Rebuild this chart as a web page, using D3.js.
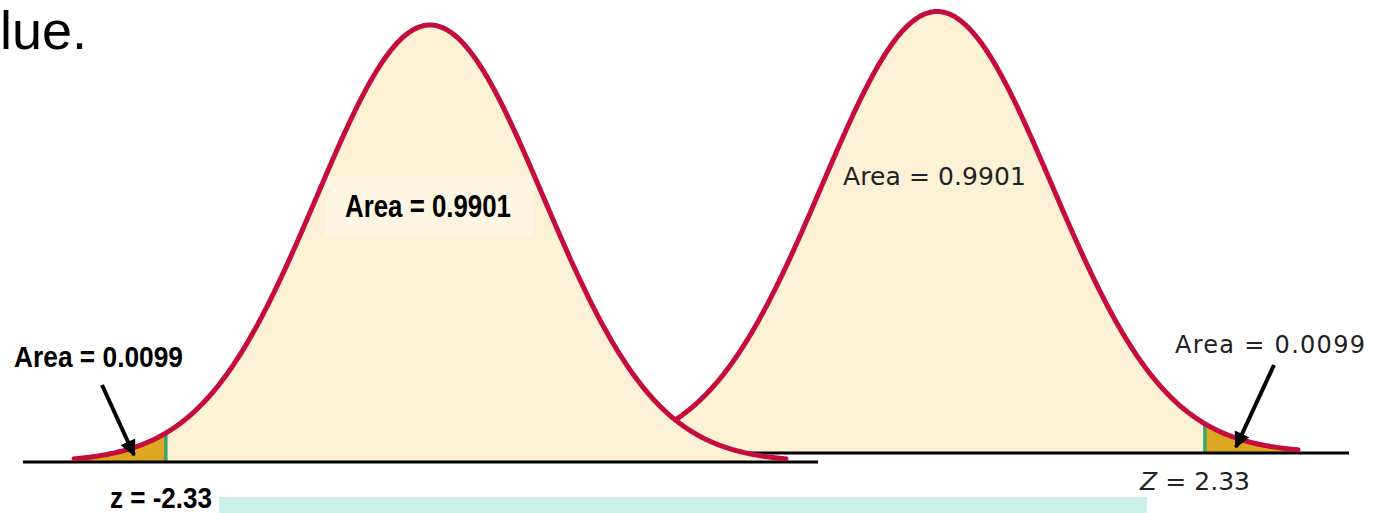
<!DOCTYPE html>
<html>
<head>
<meta charset="utf-8">
<script src="https://cdn.jsdelivr.net/npm/d3@7"></script>
<style>
  html, body { margin: 0; padding: 0; background: #ffffff; }
  svg { display: block; }
</style>
</head>
<body>
<svg id="chart" width="1381" height="513"></svg>
<script>
// Critical z values for the two tails and the areas they cut off
const panels = ["lower", "upper"];
const zCritical = [-2.33, 2.33];
const tailAreas = ["0.0099", "0.0099"];
const bodyAreas = ["0.9901", "0.9901"];
const zLimit = 3.14;

const W = 1381, H = 513;
const svg = d3.select("#chart");

const colors = {
  curve: "#c40c3d",
  body: "#fcf1d4",
  tail: "#dea722",
  cut: "#3fa46a",
  axis: "#000000",
  band: "#c9efe6"
};

// Standard normal density
const pdf = z => Math.exp(-z * z / 2) / Math.sqrt(2 * Math.PI);
const zs = d3.range(-zLimit, zLimit + 1e-9, 0.01);

// Layout of each bell curve (pixel frames)
const frames = {
  lower: { x0: 74, x1: 786, base: 462, peak: 25, axisFrom: 23, axisTo: 818 },
  upper: { x0: 576, x1: 1298, base: 453, peak: 11.5, axisFrom: 750, axisTo: 1349 }
};

function drawPanel(key, i, afterFill) {
  const f = frames[key];
  const x = d3.scaleLinear().domain([-zLimit, zLimit]).range([f.x0, f.x1]);
  const y = d3.scaleLinear().domain([0, pdf(0)]).range([f.base, f.peak]);
  const g = svg.append("g").attr("class", "panel-" + key);

  const area = d3.area().x(d => x(d)).y0(y(0)).y1(d => y(pdf(d))).curve(d3.curveBasis);
  const line = d3.line().x(d => x(d)).y(d => y(pdf(d))).curve(d3.curveBasis);

  g.append("path").datum(zs).attr("d", area).attr("fill", colors.body);
  if (afterFill) afterFill(g);

  const zc = zCritical[i];
  const tail = zc < 0 ? zs.filter(d => d <= zc).concat([zc]) : [zc].concat(zs.filter(d => d >= zc));
  g.append("path").datum(tail)
    .attr("d", d3.area().x(d => x(d)).y0(y(0)).y1(d => y(pdf(d))))
    .attr("fill", colors.tail);

  g.append("line")
    .attr("x1", x(zc)).attr("x2", x(zc))
    .attr("y1", y(0)).attr("y2", y(pdf(zc)))
    .attr("stroke", colors.cut).attr("stroke-width", 3.5);

  g.append("line")
    .attr("x1", f.axisFrom).attr("x2", f.axisTo)
    .attr("y1", f.base).attr("y2", f.base)
    .attr("stroke", colors.axis).attr("stroke-width", 3);

  g.append("path").datum(zs).attr("d", line)
    .attr("fill", "none").attr("stroke", colors.curve)
    .attr("stroke-width", 5).attr("stroke-linecap", "round");

  return { x, y };
}

// Upper-tail panel sits underneath the lower-tail one
const upper = drawPanel("upper", 1);
const lower = drawPanel("lower", 0, g => {
  // soft backing panel behind the central label
  g.append("rect").attr("x", 325).attr("y", 176).attr("width", 208).attr("height", 60)
    .attr("fill", "#fdf5e2");
});

// Arrow heads
const defs = svg.append("defs");
defs.append("marker")
  .attr("id", "head").attr("viewBox", "0 0 10 10")
  .attr("refX", 9).attr("refY", 5)
  .attr("markerWidth", 4.2).attr("markerHeight", 4)
  .attr("markerUnits", "strokeWidth")
  .attr("orient", "auto")
  .append("path").attr("d", "M0,0 L10,5 L0,10 Z").attr("fill", "#000");

function arrow(x1, y1, x2, y2) {
  svg.append("line")
    .attr("x1", x1).attr("y1", y1).attr("x2", x2).attr("y2", y2)
    .attr("stroke", "#000").attr("stroke-width", 4)
    .attr("marker-end", "url(#head)");
}
arrow(102, 385, 134, 455);
arrow(1274, 365, 1236, 447);

// Bold narrow labels (lower panel)
const boldFont = "'Liberation Sans Narrow', 'Arial Narrow', 'Liberation Sans', sans-serif";
function boldLabel(txt, x, yb, size, len) {
  svg.append("text")
    .attr("x", x).attr("y", yb)
    .attr("font-family", boldFont).attr("font-weight", "bold")
    .attr("font-size", size).attr("fill", "#000")
    .attr("textLength", len).attr("lengthAdjust", "spacingAndGlyphs")
    .text(txt);
}
boldLabel("Area = " + bodyAreas[0], 345, 217, 31, 166);
boldLabel("Area = " + tailAreas[0], 14, 367, 30, 169);
boldLabel("z = " + zCritical[0].toFixed(2), 110, 508, 30, 102);

// Regular labels (upper panel)
const lightFont = "'DejaVu Sans', 'Noto Sans', sans-serif";
function lightLabel(txt, x, yb, size, len) {
  return svg.append("text")
    .attr("x", x).attr("y", yb)
    .attr("font-family", lightFont)
    .attr("font-size", size).attr("fill", "#222")
    .attr("textLength", len).attr("lengthAdjust", "spacing")
    .text(txt);
}
lightLabel("Area = " + bodyAreas[1], 843, 185, 25, 183);
lightLabel("Area = " + tailAreas[1], 1175, 353, 24, 190);
const zt = svg.append("text")
  .attr("x", 1140).attr("y", 490)
  .attr("font-family", lightFont).attr("font-size", 25).attr("fill", "#222")
  .attr("textLength", 110).attr("lengthAdjust", "spacing");
zt.append("tspan").attr("font-style", "italic").text("Z");
zt.append("tspan").text(" = " + zCritical[1].toFixed(2));

// Trailing sentence fragment at top-left
svg.append("text")
  .attr("x", 0).attr("y", 49)
  .attr("font-family", "'Liberation Sans', Arial, sans-serif")
  .attr("font-size", 54).attr("fill", "#000")
  .text("lue.");

// Highlight band along the bottom
svg.append("rect")
  .attr("x", 219).attr("y", 497).attr("width", 928).attr("height", 16)
  .attr("fill", colors.band);
</script>
</body>
</html>
